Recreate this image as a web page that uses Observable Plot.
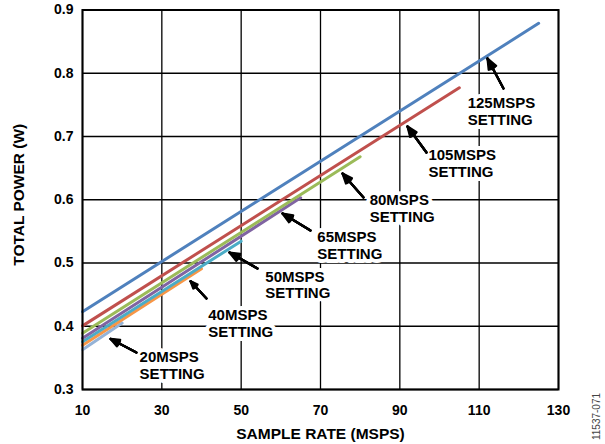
<!DOCTYPE html>
<html>
<head>
<meta charset="utf-8">
<script src="https://cdn.jsdelivr.net/npm/d3@7"></script>
<script src="https://cdn.jsdelivr.net/npm/@observablehq/plot@0.6"></script>
<style>
  html, body { margin: 0; padding: 0; background: #fff; }
</style>
</head>
<body>
<div id="chart"></div>
<script>
// Sample-rate settings (MSPS) for each curve
const settings = [20, 40, 50, 65, 80, 105, 125];
// Total power (W) at 10 MSPS and at the setting's own rate
const powerStart = [0.363, 0.370, 0.3755, 0.381, 0.389, 0.4006, 0.423];
const powerEnd   = [0.405, 0.491, 0.5345, 0.603, 0.668, 0.777, 0.879];
const colors = ["#95b3d7", "#f79646", "#4bacc6", "#8064a2", "#9bbb59", "#c0504d", "#4f81bd"];

// Axis ticks
const xTicks = [10, 30, 50, 70, 90, 110, 130];
const yTicks = [0.3, 0.4, 0.5, 0.6, 0.7, 0.8, 0.9];

// Annotation anchors (data units)
const labelX = [24.4, 41.7, 56.1, 69.2, 82.4, 97.2, 107.1];
const labelY = [0.3617, 0.428, 0.4892, 0.5514, 0.6104, 0.6815, 0.7632];
const tipX   = [17.06, 37.23, 47.06, 60.42, 75.54, 91.93, 112.1];
const tipY   = [0.380, 0.4712, 0.5166, 0.5783, 0.6415, 0.7158, 0.8233];
const tailX  = [23.6, 41.26, 54.12, 67.48, 80.84, 96.72, 116.13];
const tailY  = [0.3585, 0.4439, 0.4913, 0.5514, 0.6036, 0.6747, 0.7759];

const lineData = settings.flatMap((s, i) => [
  {rate: 10, power: powerStart[i], setting: s},
  {rate: s, power: powerEnd[i], setting: s}
]);
const notes = settings.map((s, i) => ({
  text: `${s}MSPS\nSETTING`,
  lx: labelX[i], ly: labelY[i],
  x1: tailX[i], y1: tailY[i], x2: tipX[i], y2: tipY[i]
}));
const colorOf = Object.fromEntries(settings.map((s, i) => [s, colors[i]]));

const arrowOpts = (angle) => ({
  x1: "x1", y1: "y1", x2: "x2", y2: "y2",
  stroke: "black", strokeWidth: 2.2, headLength: 12, headAngle: angle
});

const chart = Plot.plot({
  width: 605,
  height: 444,
  marginLeft: 82,
  marginRight: 47,
  marginTop: 9.5,
  marginBottom: 55,
  style: {fontFamily: "'Liberation Sans', Arial, sans-serif", fontWeight: "bold", fontSize: "14px", color: "black", background: "white"},
  x: {domain: [10, 130], ticks: xTicks, tickSize: 0, tickPadding: 16, label: null},
  y: {domain: [0.3, 0.9], ticks: yTicks, tickSize: 0, tickPadding: 9, tickFormat: d3.format(".1f"), label: null},
  marks: [
    Plot.ruleX(xTicks, {stroke: "black", strokeWidth: 1.3}),
    Plot.ruleY(yTicks, {stroke: "black", strokeWidth: 1.3}),
    Plot.line(lineData, {x: "rate", y: "power", z: "setting", stroke: d => colorOf[d.setting], strokeWidth: 3}),
    Plot.text(notes, {x: "lx", y: "ly", text: "text", textAnchor: "start", lineAnchor: "top", lineHeight: 1.11,
      fontSize: 15, fill: "black", stroke: "white", strokeWidth: 8, paintOrder: "stroke"}),
    Plot.arrow(notes, arrowOpts(44)),
    Plot.arrow(notes, arrowOpts(30)),
    Plot.arrow(notes, arrowOpts(16)),
    Plot.arrow(notes, arrowOpts(4)),
    Plot.frame({stroke: "black", strokeWidth: 2}),
    Plot.text(["SAMPLE RATE (MSPS)"], {frameAnchor: "bottom", dy: 45, lineAnchor: "middle", text: d => d, fontSize: 15.5}),
    Plot.text(["TOTAL POWER (W)"], {frameAnchor: "left", dx: -63, dy: -5, rotate: -90, lineAnchor: "middle", textAnchor: "middle", text: d => d, fontSize: 15.5}),
    Plot.text(["11537-071"], {frameAnchor: "bottom-right", dx: 38, dy: 27, rotate: -90, textAnchor: "middle", lineAnchor: "middle", text: d => d, fontSize: 10, fontWeight: "normal", fill: "#444"})
  ]
});
document.getElementById("chart").appendChild(chart);
</script>
</body>
</html>
